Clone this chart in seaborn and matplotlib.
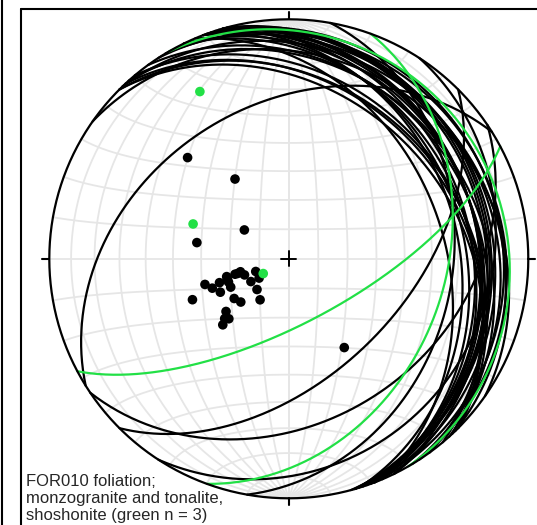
import numpy as np
import pandas as pd
import seaborn as sns
import matplotlib.pyplot as plt
from matplotlib.lines import Line2D

# foliation planes, dip direction / dip (degrees)
black_dipdir = [135, 146, 123, 100, 328, 67, 73, 69, 71, 64, 72, 69, 64, 74, 74,
                75, 70, 54, 48, 59, 69, 57, 46, 35, 50, 45, 45, 47, 74]
black_dip = [50, 33, 18, 32, 36, 36, 30, 28, 25, 26, 22, 22, 22, 19, 18,
             17, 16, 23, 22, 15, 12, 12, 15, 17, 28, 29, 32, 30, 22]
# shoshonite (green n = 3)
green_dipdir = [152, 110, 60]
green_dip = [68, 35, 10]

label = "FOR010 foliation;\nmonzogranite and tonalite,\nshoshonite (green n = 3)"
green = '#22e046'


def project(e, n, d):
    # lower hemisphere, equal-area (Schmidt)
    s = 1.0 / np.sqrt(1.0 + d)
    return e * s, n * s


def great_circle(dipdir, dip, npts=241):
    t = np.linspace(0, np.pi, npts)
    a = np.radians(dipdir)
    b = np.radians(dip)
    sE, sN = np.sin(a - np.pi / 2), np.cos(a - np.pi / 2)
    dE, dN, dD = np.cos(b) * np.sin(a), np.cos(b) * np.cos(a), np.sin(b)
    e = np.cos(t) * sE + np.sin(t) * dE
    n = np.cos(t) * sN + np.sin(t) * dN
    d = np.sin(t) * dD
    return project(e, n, d)


def small_circle(alpha, npts=181):
    f = np.linspace(0, np.pi, npts)
    a = np.radians(alpha)
    return project(np.sin(a) * np.cos(f), np.cos(a) * np.ones_like(f), np.sin(a) * np.sin(f))


def pole(dipdir, dip):
    a = np.radians(dipdir)
    b = np.radians(dip)
    return project(-np.sin(b) * np.sin(a), -np.sin(b) * np.cos(a), np.cos(b))


# build tables for seaborn
rows = []
pole_rows = []
k = 0
for lith, dds, dps in [('black', black_dipdir, black_dip), ('green', green_dipdir, green_dip)]:
    for dd, dp in zip(dds, dps):
        x, y = great_circle(dd, dp)
        rows.append(pd.DataFrame({'x': x, 'y': y, 'plane': k, 'lith': lith}))
        px, py = pole(dd, dp)
        pole_rows.append({'x': px, 'y': py, 'lith': lith})
        k += 1
circles = pd.concat(rows, ignore_index=True)
poles = pd.DataFrame(pole_rows)

sns.set_style("white")
plt.rcParams['font.family'] = ['Liberation Sans', 'DejaVu Sans']

W, H = 537, 525
cx, cy, R = 288.8, 258.8, 239.5
fig = plt.figure(figsize=(W / 100, H / 100), dpi=100)
ax = fig.add_axes([0, 0, 1, 1])
ax.set_xlim(-cx / R, (W - cx) / R)
ax.set_ylim(-(H - cy) / R, cy / R)
ax.axis('off')

# net grid, 10 degree spacing
gcol = '#e6e6e6'
for dip in range(10, 91, 10):
    for dd in (90, 270):
        x, y = great_circle(dd, dip)
        ax.plot(x, y, color=gcol, lw=1.3, zorder=1)
for alpha in range(10, 171, 10):
    x, y = small_circle(alpha)
    ax.plot(x, y, color=gcol, lw=1.3, zorder=1)

# planes
sns.lineplot(data=circles, x='x', y='y', units='plane', estimator=None, sort=False,
             hue='lith', palette={'black': 'black', 'green': green}, lw=1.6,
             legend=False, ax=ax, zorder=3)

# poles
sns.scatterplot(data=poles, x='x', y='y', hue='lith', palette={'black': 'black', 'green': green},
                s=48, edgecolor='none', legend=False, ax=ax, zorder=5)

# primitive, ticks and centre cross
th = np.linspace(0, 2 * np.pi, 721)
ax.plot(np.cos(th), np.sin(th), color='black', lw=1.6, zorder=4)
tl = 7 / R
ax.plot([0, 0], [1, 1 + tl], color='black', lw=1.5)
ax.plot([0, 0], [-1, -1 - tl], color='black', lw=1.5)
ax.plot([1, 1 + tl], [0, 0], color='black', lw=1.5)
ax.plot([-1, -1 - tl], [0, 0], color='black', lw=1.5)
cl = 7.5 / R
ax.plot([-cl, cl], [0, 0], color='black', lw=1.4, zorder=6)
ax.plot([0, 0], [-cl, cl], color='black', lw=1.4, zorder=6)

ax.set_xlabel('')
ax.set_ylabel('')

# panel borders
fig.add_artist(Line2D([21 / W, 21 / W], [0, 1 - 9 / H], color='black', lw=1.5))
fig.add_artist(Line2D([21 / W, 1], [1 - 9 / H, 1 - 9 / H], color='black', lw=1.5))
fig.add_artist(Line2D([1.5 / W, 1.5 / W], [0, 1], color='black', lw=1.5))

fig.text(26 / W, 1 - 474 / H, label, ha='left', va='top', fontsize=12, linespacing=1.15)

fig.savefig('out.png', dpi=100)
